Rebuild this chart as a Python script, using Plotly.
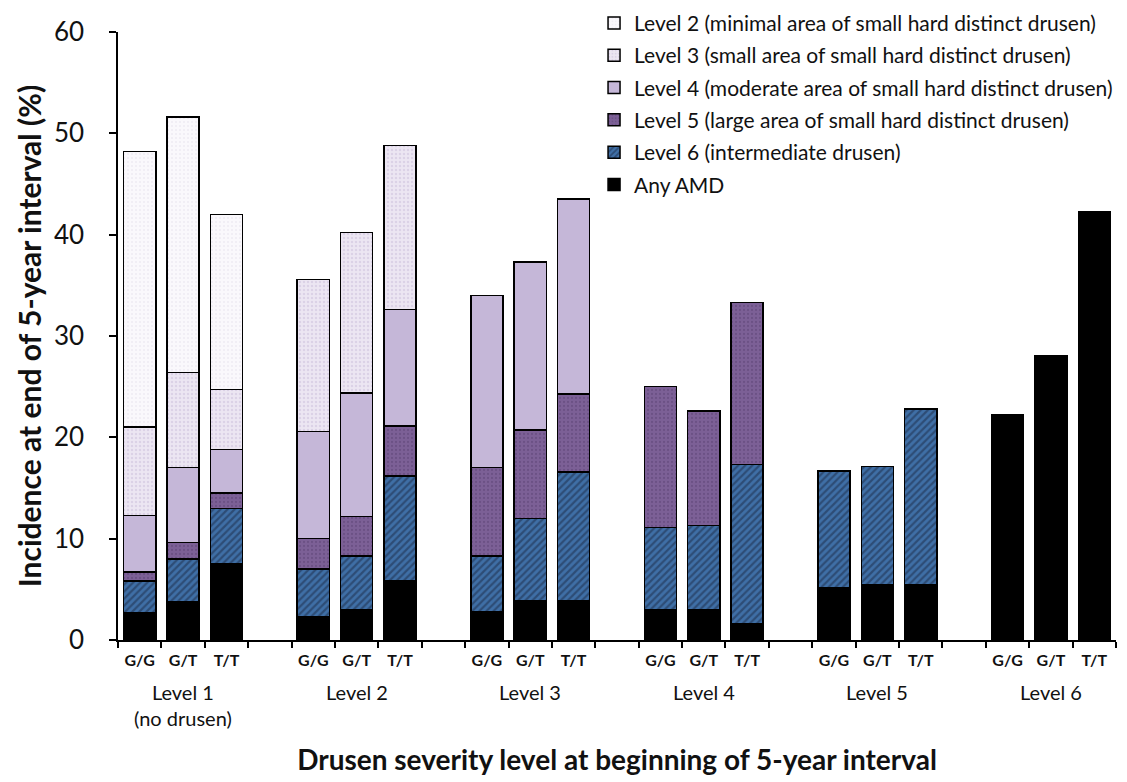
import plotly.graph_objects as go

# ---------------- data ----------------
groups = ["Level 1<br>(no drusen)", "Level 2", "Level 3", "Level 4", "Level 5", "Level 6"]
genotypes = ["G/G", "G/T", "T/T"]
x_title = "Drusen severity level at beginning of 5-year interval"
y_title = "Incidence at end of 5-year interval (%)"

series_names = [
    "Any AMD",
    "Level 6 (intermediate drusen)",
    "Level 5 (large area of small hard distinct drusen)",
    "Level 4 (moderate area of small hard distinct drusen)",
    "Level 3 (small area of small hard distinct drusen)",
    "Level 2 (minimal area of small hard distinct drusen)",
]

# segment heights (%), 3 genotypes per group, groups Level 1..Level 6
any_amd = [2.7, 3.8, 7.5, 2.3, 3.0, 5.8, 2.8, 3.9, 3.9, 3.0, 3.0, 1.6, 5.2, 5.5, 5.5, 22.2, 28.1, 42.3]
lvl6 = [3.1, 4.2, 5.5, 4.7, 5.3, 10.4, 5.5, 8.1, 12.7, 8.1, 8.3, 15.7, 11.5, 11.6, 17.3, None, None, None]
lvl5 = [0.9, 1.6, 1.5, 3.0, 3.9, 4.9, 8.7, 8.7, 7.7, 13.9, 11.3, 16.0, None, None, None, None, None, None]
lvl4 = [5.6, 7.4, 4.3, 10.6, 12.2, 11.5, 17.0, 16.6, 19.2, None, None, None, None, None, None, None, None, None]
lvl3 = [8.7, 9.4, 5.9, 15.0, 15.8, 16.2, None, None, None, None, None, None, None, None, None, None, None, None]
lvl2 = [27.2, 25.2, 17.3, None, None, None, None, None, None, None, None, None, None, None, None, None, None, None]

series_values = [any_amd, lvl6, lvl5, lvl4, lvl3, lvl2]

# ---------------- styles ----------------
styles = [
    dict(color="#000000", pattern=dict(shape="")),
    dict(color="#3f6fa6", pattern=dict(shape="/", fgcolor="#1c2a45", bgcolor="#3f6fa6", size=5, solidity=0.45)),
    dict(color="#7c6096", pattern=dict(shape=".", fgcolor="#5a4273", bgcolor="#7c6096", size=4, solidity=0.25)),
    dict(color="#c5b7d8", pattern=dict(shape="")),
    dict(color="#e4dcec", pattern=dict(shape=".", fgcolor="#c9bdd9", bgcolor="#ece6f2", size=4, solidity=0.3)),
    dict(color="#f6f3f9", pattern=dict(shape=".", fgcolor="#e2dbea", bgcolor="#faf8fc", size=4, solidity=0.2)),
]

FONT = "Lato"
TXT = "#111111"

# slot positions: 3 bars per group + 1 empty slot between groups
xpos = []
xlab = []
for gi, g in enumerate(groups):
    for ti, t in enumerate(genotypes):
        xpos.append(gi * 4 + ti)
        xlab.append("<b>" + t + "</b>")
group_centers = [gi * 4 + 1 for gi in range(len(groups))]
n_slots = len(groups) * 4 - 1

fig = go.Figure()
for i, (name, vals) in enumerate(zip(series_names, series_values)):
    st = styles[i]
    fig.add_trace(go.Bar(
        x=xpos, y=vals, name=name, legendgroup=name,
        legendrank=100 - 10 * i,
        width=0.74,
        marker=dict(color=st["color"], pattern=st["pattern"],
                    line=dict(color="#000000", width=1.5)),
    ))

for gc, g in zip(group_centers, groups):
    fig.add_annotation(x=gc, y=-0.063, xref="x", yref="paper", text=g,
                       showarrow=False, yanchor="top",
                       font=dict(family=FONT, size=20, color=TXT))

fig.update_layout(
    width=1127, height=782,
    barmode="stack",
    plot_bgcolor="white", paper_bgcolor="white",
    margin=dict(l=110, r=19, t=24, b=150, autoexpand=False),
    font=dict(family=FONT, color=TXT),
    showlegend=True,
    legend=dict(x=0.52, y=1.048, xref="container", yref="paper",
                xanchor="left", yanchor="top",
                traceorder="grouped", tracegroupgap=2,
                font=dict(family=FONT, size=21, color=TXT),
                bgcolor="rgba(0,0,0,0)", itemwidth=30),
    xaxis=dict(
        range=[-0.5, n_slots - 0.5],
        tickmode="array", tickvals=xpos, ticktext=xlab, ticks="",
        tickangle=0, ticklabelstandoff=5,
        tickfont=dict(family=FONT, size=16, color=TXT),
        showline=True, linecolor="#000000", linewidth=1.5,
        showgrid=False, zeroline=False,
        minor=dict(tickmode="linear", tick0=0.5, dtick=1, ticks="outside",
                   ticklen=6, tickwidth=1.5, tickcolor="#000000", showgrid=False),
        title=dict(text="<b>" + x_title + "</b>", standoff=82,
                   font=dict(family=FONT, size=28, color=TXT)),
    ),
    yaxis=dict(
        range=[0, 60], dtick=10, ticks="outside", ticklen=7, tickwidth=1.5,
        tickcolor="#000000", ticklabelstandoff=20,
        tickfont=dict(family=FONT, size=26, color=TXT),
        showline=True, linecolor="#000000", linewidth=1.5,
        showgrid=False, zeroline=False,
        title=dict(text="<b>" + y_title + "</b>", standoff=3,
                   font=dict(family=FONT, size=30, color=TXT)),
    ),
)

fig.write_html("out.html")
